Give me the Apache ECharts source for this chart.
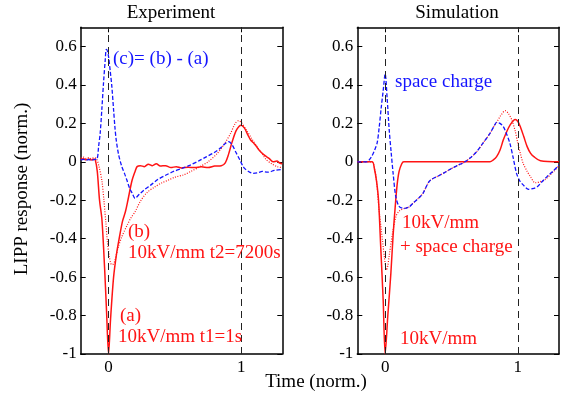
<!DOCTYPE html>
<html>
<head>
<meta charset="utf-8">
<script src="https://cdn.jsdelivr.net/npm/echarts@6/dist/echarts.min.js"></script>
<style>html,body{margin:0;padding:0;background:#fff}#c{width:562px;height:398px}</style>
</head>
<body>
<div id="c"></div>
<script>
// ---- data ----
var xTicks = [0, 1];
var yTicks = [-1, -0.8, -0.6, -0.4, -0.2, 0, 0.2, 0.4, 0.6];
var markTimes = [0, 1];
var panelTitles = ['Experiment', 'Simulation'];

// Experiment (a): 10kV/mm t1=1s  (red solid)
var expA = [[-0.21,0.012],[-0.19,0.016],[-0.17,0.011],[-0.15,0.015],[-0.13,0.01],[-0.11,0.014],[-0.1,0.01],[-0.085,-0.05],[-0.068,-0.2],[-0.05,-0.3],[-0.03,-0.55],[-0.015,-0.78],[0,-1],[0.015,-0.82],[0.038,-0.6],[0.06,-0.48],[0.08,-0.4],[0.105,-0.31],[0.127,-0.26],[0.146,-0.2],[0.176,-0.1],[0.2,-0.05],[0.215,-0.025],[0.24,-0.02],[0.27,-0.025],[0.3,-0.012],[0.33,-0.02],[0.36,-0.01],[0.39,-0.022],[0.43,-0.02],[0.47,-0.03],[0.51,-0.025],[0.55,-0.032],[0.6,-0.028],[0.65,-0.03],[0.7,-0.026],[0.75,-0.03],[0.8,-0.022],[0.85,-0.02],[0.88,-0.005],[0.905,0.04],[0.93,0.1],[0.96,0.16],[0.985,0.185],[1.0,0.19],[1.025,0.175],[1.05,0.14],[1.07,0.115],[1.09,0.1],[1.11,0.085],[1.13,0.065],[1.15,0.05],[1.18,0.032],[1.21,0.018],[1.24,0.0],[1.27,0.004],[1.29,-0.006],[1.31,-0.01]];
// Experiment (b): 10kV/mm t2=7200s (red dotted)
var expB = [[-0.21,0.02],[-0.19,0.024],[-0.17,0.018],[-0.15,0.022],[-0.13,0.017],[-0.11,0.021],[-0.09,0.015],[-0.07,-0.03],[-0.05,-0.1],[-0.035,-0.2],[-0.02,-0.32],[-0.008,-0.42],[0.005,-0.49],[0.018,-0.53],[0.03,-0.535],[0.045,-0.52],[0.06,-0.48],[0.075,-0.44],[0.1,-0.39],[0.14,-0.33],[0.17,-0.29],[0.2,-0.26],[0.24,-0.205],[0.29,-0.16],[0.35,-0.13],[0.4,-0.11],[0.45,-0.095],[0.5,-0.08],[0.565,-0.068],[0.62,-0.05],[0.69,-0.025],[0.75,0.0],[0.82,0.044],[0.87,0.09],[0.92,0.148],[0.955,0.2],[0.98,0.214],[1.0,0.205],[1.04,0.165],[1.08,0.12],[1.12,0.079],[1.16,0.04],[1.19,0.01],[1.23,-0.01],[1.27,-0.025],[1.31,-0.03]];
// Experiment (c) = (b) - (a) (blue dashed)
var expC = [[-0.21,0.01],[-0.19,0.013],[-0.17,0.009],[-0.15,0.012],[-0.13,0.008],[-0.11,0.012],[-0.087,0.015],[-0.075,0.08],[-0.063,0.15],[-0.05,0.28],[-0.038,0.41],[-0.025,0.53],[-0.017,0.585],[-0.008,0.575],[0,0.547],[0.013,0.47],[0.025,0.39],[0.038,0.27],[0.048,0.18],[0.058,0.113],[0.075,0.04],[0.1,-0.025],[0.12,-0.06],[0.138,-0.095],[0.16,-0.14],[0.176,-0.16],[0.2,-0.19],[0.23,-0.17],[0.27,-0.145],[0.32,-0.12],[0.365,-0.095],[0.43,-0.07],[0.49,-0.05],[0.55,-0.035],[0.616,-0.017],[0.68,0.005],[0.74,0.027],[0.8,0.05],[0.84,0.07],[0.88,0.095],[0.905,0.105],[0.93,0.09],[0.96,0.05],[0.99,0.01],[1.02,-0.03],[1.055,-0.05],[1.09,-0.06],[1.12,-0.058],[1.16,-0.05],[1.2,-0.054],[1.25,-0.045],[1.31,-0.04]];

// Simulation: 10kV/mm (red solid)
var simA = [[-0.21,0],[-0.15,0],[-0.097,0],[-0.08,-0.04],[-0.065,-0.1],[-0.05,-0.2],[-0.033,-0.45],[-0.015,-0.72],[0,-1],[0.02,-0.8],[0.043,-0.58],[0.06,-0.38],[0.075,-0.24],[0.09,-0.12],[0.105,-0.05],[0.125,-0.01],[0.14,0],[0.3,0],[0.5,0],[0.79,0],[0.815,0.01],[0.84,0.027],[0.865,0.06],[0.89,0.113],[0.915,0.155],[0.94,0.19],[0.98,0.22],[1.0,0.21],[1.02,0.18],[1.045,0.13],[1.07,0.079],[1.095,0.045],[1.12,0.027],[1.17,0.005],[1.31,0]];
// Simulation: 10kV/mm + space charge (red dotted)
var simB = [[-0.21,0],[-0.12,0],[-0.1,0],[-0.085,-0.02],[-0.065,-0.1],[-0.046,-0.25],[-0.02,-0.41],[-0.005,-0.5],[0.01,-0.563],[0.02,-0.54],[0.03,-0.49],[0.056,-0.37],[0.081,-0.285],[0.1,-0.26],[0.12,-0.25],[0.145,-0.242],[0.18,-0.235],[0.21,-0.215],[0.25,-0.19],[0.284,-0.165],[0.335,-0.1],[0.41,-0.07],[0.45,-0.055],[0.5,-0.035],[0.55,-0.017],[0.59,-0.005],[0.64,0.02],[0.69,0.053],[0.74,0.1],[0.79,0.148],[0.82,0.185],[0.84,0.205],[0.87,0.24],[0.905,0.266],[0.93,0.25],[0.955,0.217],[0.98,0.16],[1.0,0.096],[1.02,0.04],[1.04,-0.008],[1.07,-0.05],[1.095,-0.077],[1.13,-0.109],[1.16,-0.105],[1.2,-0.095],[1.27,-0.05],[1.31,-0.02]];
// Simulation: space charge (blue dashed)
var simC = [[-0.21,0],[-0.14,0],[-0.12,0.01],[-0.1,0.03],[-0.08,0.06],[-0.06,0.1],[-0.045,0.18],[-0.03,0.28],[-0.015,0.37],[0,0.457],[0.015,0.33],[0.03,0.17],[0.045,0.05],[0.06,-0.06],[0.08,-0.18],[0.106,-0.233],[0.145,-0.242],[0.18,-0.235],[0.21,-0.215],[0.25,-0.19],[0.284,-0.165],[0.335,-0.1],[0.41,-0.07],[0.45,-0.055],[0.5,-0.035],[0.55,-0.017],[0.59,-0.005],[0.64,0.02],[0.69,0.053],[0.74,0.1],[0.79,0.148],[0.82,0.185],[0.84,0.205],[0.865,0.2],[0.89,0.183],[0.915,0.145],[0.94,0.096],[0.965,0.02],[0.99,-0.06],[1.015,-0.1],[1.04,-0.12],[1.08,-0.143],[1.11,-0.14],[1.146,-0.13],[1.18,-0.105],[1.22,-0.077],[1.27,-0.045],[1.31,-0.017]];

// ---- chart ----
var FONT = '"Liberation Serif", "Times New Roman", serif';
var RED = '#ff1414', BLUE = '#1414ff';
var XMIN = -0.21, XMAX = 1.31, YMIN = -1, YMAX = 0.7;
var chart = echarts.init(document.getElementById('c'), null, {renderer: 'canvas'});

function xAx(g, pos, show) {
  return {type: 'value', gridIndex: g, position: pos, min: XMIN, max: XMAX,
    axisLine: {show: true, onZero: false, lineStyle: {color: '#000', width: 1.5}},
    axisTick: {show: true, inside: true, length: 5, customValues: xTicks, lineStyle: {color: '#000', width: 1}},
    axisLabel: {show: show, customValues: xTicks, color: '#000', fontFamily: FONT, fontSize: 17, margin: 5},
    splitLine: {show: false}};
}
function yAx(g, pos, show) {
  return {type: 'value', gridIndex: g, position: pos, min: YMIN, max: YMAX,
    axisLine: {show: true, onZero: false, lineStyle: {color: '#000', width: 1.5}},
    axisTick: {show: true, inside: true, length: 5, customValues: yTicks, lineStyle: {color: '#000', width: 1}},
    axisLabel: {show: show, customValues: yTicks, color: '#000', fontFamily: FONT, fontSize: 17, margin: 4},
    splitLine: {show: false}};
}
function ser(data, g, color, type, width, marks) {
  var s = {type: 'line', xAxisIndex: g, yAxisIndex: g, data: data, showSymbol: false, symbol: 'none',
    smooth: 0.3, animation: false, z: type === 'solid' ? 3 : 4,
    lineStyle: {color: color, width: width, type: type}};
  if (marks) {
    s.markLine = {silent: true, symbol: 'none', animation: false, label: {show: false},
      lineStyle: {color: '#222', width: 1, type: [7, 5]},
      data: markTimes.map(function (t) { return {xAxis: t}; })};
  }
  return s;
}

chart.setOption({
  animation: false,
  grid: [
    {left: 80.7, top: 27.3, width: 201.6, height: 326.7},
    {left: 357.3, top: 27.3, width: 201.7, height: 326.7}
  ],
  xAxis: [xAx(0, 'bottom', true), xAx(1, 'bottom', true), xAx(0, 'top', false), xAx(1, 'top', false)],
  yAxis: [yAx(0, 'left', true), yAx(1, 'left', true), yAx(0, 'right', false), yAx(1, 'right', false)],
  series: [
    ser(expA, 0, RED, 'solid', 1.5, true),
    ser(expB, 0, RED, [1, 1.5], 1.2, false),
    ser(expC, 0, BLUE, [4, 2], 1.3, false),
    ser(simA, 1, RED, 'solid', 1.5, true),
    ser(simB, 1, RED, [1, 1.5], 1.2, false),
    ser(simC, 1, BLUE, [4, 2], 1.3, false)
  ],
  graphic: [
    {type: 'text', left: null, style: {x: 171, y: 13, text: panelTitles[0], align: 'center', verticalAlign: 'middle', font: '19px ' + FONT, fill: '#000'}},
    {type: 'text', style: {x: 457, y: 13, text: panelTitles[1], align: 'center', verticalAlign: 'middle', font: '19px ' + FONT, fill: '#000'}},
    {type: 'text', style: {x: 316, y: 382, text: 'Time (norm.)', align: 'center', verticalAlign: 'middle', font: '19px ' + FONT, fill: '#000'}},
    {type: 'text', x: 22, y: 189, rotation: Math.PI / 2, style: {x: 0, y: 0, text: 'LIPP response (norm.)', align: 'center', verticalAlign: 'middle', font: '19px ' + FONT, fill: '#000'}},
    {type: 'text', z: 10, style: {x: 113, y: 59, text: '(c)= (b) - (a)', align: 'left', verticalAlign: 'middle', font: '19px ' + FONT, fill: BLUE}},
    {type: 'text', z: 10, style: {x: 128, y: 232, text: '(b)', align: 'left', verticalAlign: 'middle', font: '19px ' + FONT, fill: RED}},
    {type: 'text', z: 10, style: {x: 128, y: 253, text: '10kV/mm t2=7200s', align: 'left', verticalAlign: 'middle', font: '19px ' + FONT, fill: RED}},
    {type: 'text', z: 10, style: {x: 120, y: 316, text: '(a)', align: 'left', verticalAlign: 'middle', font: '19px ' + FONT, fill: RED}},
    {type: 'text', z: 10, style: {x: 118, y: 337, text: '10kV/mm t1=1s', align: 'left', verticalAlign: 'middle', font: '19px ' + FONT, fill: RED}},
    {type: 'text', z: 10, style: {x: 395, y: 82, text: 'space charge', align: 'left', verticalAlign: 'middle', font: '19px ' + FONT, fill: BLUE}},
    {type: 'text', z: 10, style: {x: 402, y: 223, text: '10kV/mm', align: 'left', verticalAlign: 'middle', font: '19px ' + FONT, fill: RED}},
    {type: 'text', z: 10, style: {x: 400, y: 247, text: '+ space charge', align: 'left', verticalAlign: 'middle', font: '19px ' + FONT, fill: RED}},
    {type: 'text', z: 10, style: {x: 400, y: 339, text: '10kV/mm', align: 'left', verticalAlign: 'middle', font: '19px ' + FONT, fill: RED}}
  ]
});
</script>
</body>
</html>
